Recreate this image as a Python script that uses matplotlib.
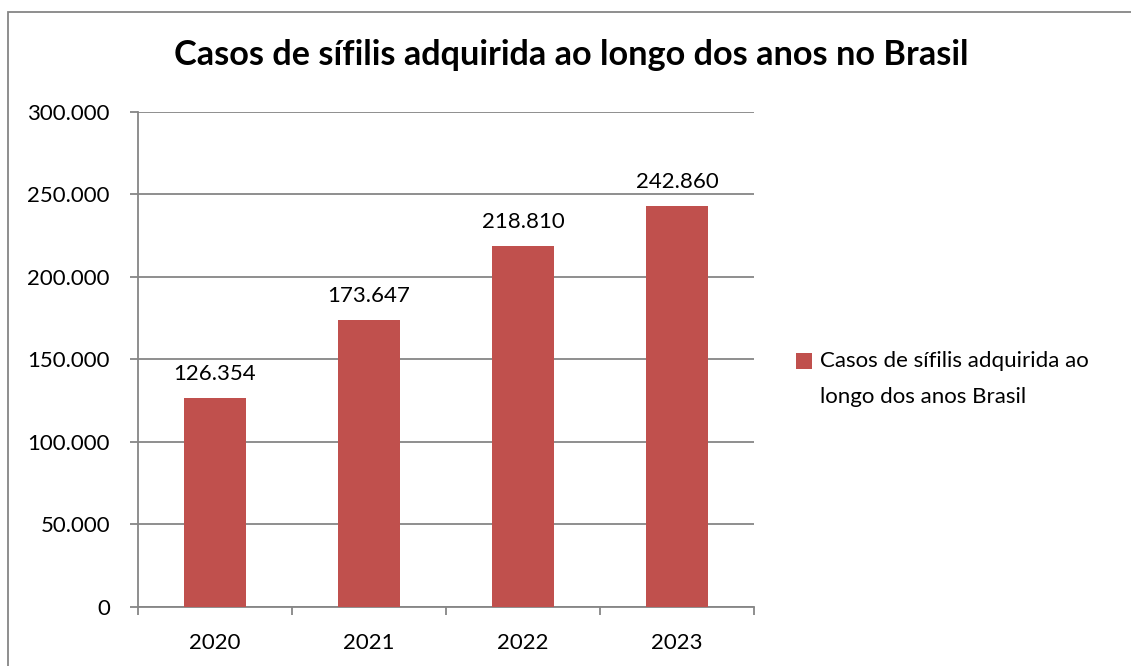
import matplotlib
matplotlib.use("Agg")
import matplotlib.pyplot as plt
from matplotlib.patches import Rectangle
from matplotlib.ticker import FuncFormatter
from matplotlib.legend_handler import HandlerPatch

# data
anos = ["2020", "2021", "2022", "2023"]
casos = [126354, 173647, 218810, 242860]
serie = "Casos de sífilis adquirida ao\nlongo dos anos Brasil"
titulo = "Casos de sífilis adquirida ao longo dos anos no Brasil"

plt.rcParams['font.family'] = ['Lato', 'DejaVu Sans']

bar_color = '#C0504D'
grid_color = '#868686'

fig = plt.figure(figsize=(11.31, 6.66), dpi=100)
ax = fig.add_axes([0.1218, 0.0893, 0.5449, 0.743])

# outer chart border (only top and left edges fall inside the picture)
fig.patches.append(Rectangle((8 / 1131, -0.1), 1.2, 1 - 12 / 666 + 0.1,
                             transform=fig.transFigure, fill=False,
                             edgecolor=grid_color, lw=1.3))

x = list(range(len(anos)))
bars = ax.bar(x, casos, width=0.4, color=bar_color, label=serie, zorder=3)

def fmt(v, pos=None):
    return f"{int(v):,}".replace(",", ".")

for b, v in zip(bars, casos):
    ax.annotate(fmt(v), (b.get_x() + b.get_width() / 2, v),
                xytext=(0, 10), textcoords='offset points',
                ha='center', va='bottom', fontsize=16)

ax.set_xlim(-0.5, len(anos) - 0.5)
ax.set_ylim(0, 300000)
ax.set_yticks(range(0, 300001, 50000))
ax.yaxis.set_major_formatter(FuncFormatter(fmt))
ax.yaxis.grid(True, color=grid_color, lw=1.3, zorder=0)

ax.set_xticks(x)
ax.set_xticklabels(anos)
ax.set_xticks([i - 0.5 for i in range(len(anos) + 1)], minor=True)
ax.tick_params(axis='x', which='major', length=0, pad=19, labelsize=16)
ax.tick_params(axis='x', which='minor', length=6, width=1.3, color=grid_color)
ax.tick_params(axis='y', length=6, width=1.3, color=grid_color, pad=14,
               labelsize=16)

for s in ['top', 'right']:
    ax.spines[s].set_visible(False)
for s in ['left', 'bottom']:
    ax.spines[s].set_color(grid_color)
    ax.spines[s].set_linewidth(1.3)

fig.text(0.505, 1 - 55 / 666, titulo, ha='center', va='center',
         fontsize=24.7, fontweight='bold')

# square sits next to the first line of the label, like in Excel
def top_square(legend, orig_handle, xdescent, ydescent, width, height, fontsize):
    return Rectangle((-xdescent, -ydescent + 13), width, height)

leg = ax.legend([bars[0]], [serie], loc='center left',
                bbox_to_anchor=(1.035, 0.46), frameon=False,
                fontsize=16, handlelength=0.75, handleheight=0.75,
                handletextpad=0.35,
                handler_map={bars[0]: HandlerPatch(patch_func=top_square)})
for t in leg.get_texts():
    t.set_linespacing(1.95)

fig.savefig("out.png", dpi=100)
